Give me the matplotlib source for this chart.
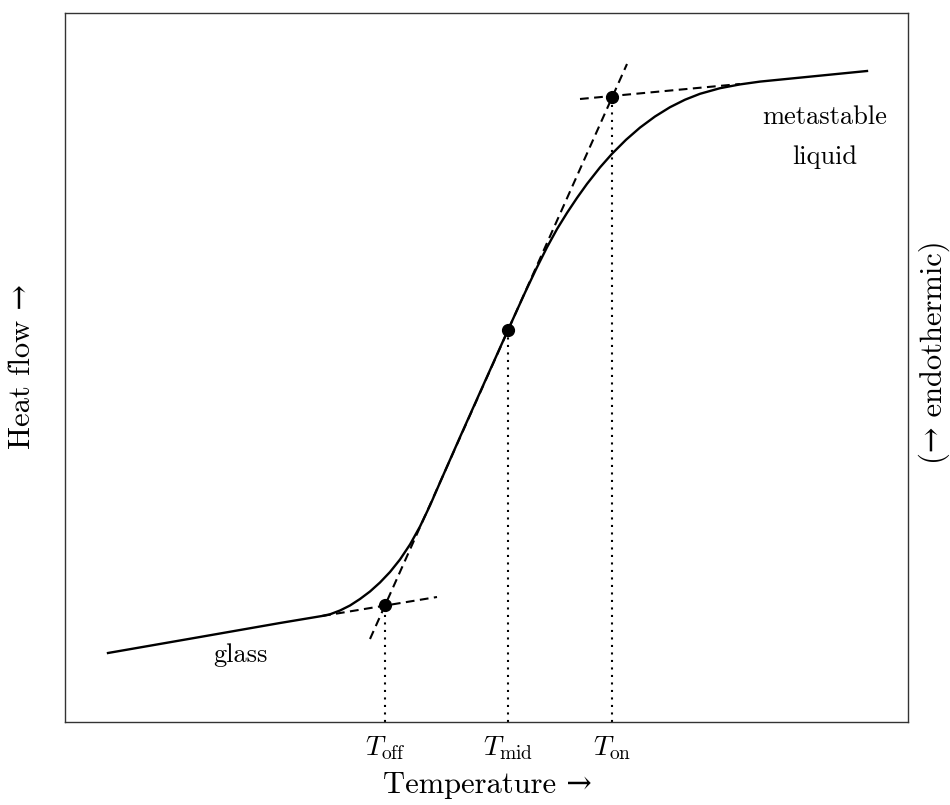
import matplotlib
matplotlib.use("Agg")
import matplotlib.pyplot as plt

plt.rcParams["font.family"] = ["cmr10", "DejaVu Serif"]
plt.rcParams["mathtext.fontset"] = "cm"
plt.rcParams["axes.unicode_minus"] = False
plt.rcParams["axes.formatter.use_mathtext"] = True

# DSC trace through the glass transition (arbitrary units)
temperature = [108, 200, 280, 322, 330, 340, 350, 360, 370, 380, 390, 400,
               410, 420, 430, 440, 460, 480, 508, 525, 536, 547, 557, 567,
               577, 587, 600, 612, 626, 640, 655, 670, 685, 700, 720, 740,
               760, 867]
heat_flow = [152, 168, 182, 189, 190.7, 194.5, 199.5, 206, 213.5, 222.5, 233, 245.5,
             260.5, 278.5, 299.5, 322.5, 367.9, 412.6, 475, 512.4, 535.7, 557.7, 575.9, 592.1,
             607.1, 621.1, 637.6, 651.2, 665.2, 677.4, 688.5, 697.8, 705.3, 711.2, 716.8, 720.6,
             723.4, 734]

# construction lines: glass baseline, liquid baseline, inflection tangent
glass_tangent_T = [322, 437]
glass_tangent_H = [189, 208]
liquid_tangent_T = [580, 740]
liquid_tangent_H = [706, 721]
inflection_tangent_T = [370, 627]
inflection_tangent_H = [166, 741]

# characteristic temperatures
char_T = [385, 508, 612]
char_H = [200, 475, 708]
char_labels = [r"$T_{\mathrm{off}}$", r"$T_{\mathrm{mid}}$", r"$T_{\mathrm{on}}$"]

fig = plt.figure(figsize=(9.5, 8.05), dpi=100)
ax = fig.add_axes([65 / 950, 83 / 805, 843 / 950, 709 / 805])
ax.set_xlim(65, 908)
ax.set_ylim(83, 792)

ax.plot(temperature, heat_flow, color="black", lw=1.7, solid_joinstyle="round", zorder=3)

dash = (0, (4.2, 2.6))
for tx, hy in [(glass_tangent_T, glass_tangent_H),
               (liquid_tangent_T, liquid_tangent_H),
               (inflection_tangent_T, inflection_tangent_H)]:
    ax.plot(tx, hy, color="black", lw=1.5, linestyle=dash, zorder=2)

ax.vlines(char_T, 83, char_H, colors="black", lw=1.5, linestyles=[(0, (1, 2.6))], zorder=1)
ax.plot(char_T, char_H, "o", color="black", ms=8.5, zorder=4)

ax.set_xticks(char_T)
ax.set_xticklabels(char_labels, fontsize=20)
ax.tick_params(axis="x", length=0, pad=9)
ax.set_yticks([])

for s in ax.spines.values():
    s.set_linewidth(1.0)
    s.set_color("#333333")

ax.text(240, 150, "glass", fontsize=19, ha="center", va="center")
ax.text(825, 688, "metastable", fontsize=19, ha="center", va="center")
ax.text(825, 648, "liquid", fontsize=19, ha="center", va="center")

fig.text(487 / 950, 1 - 785 / 805, "Temperature →", fontsize=22,
         ha="center", va="center")
fig.text(22 / 950, 1 - 367 / 805, "Heat flow →", fontsize=22,
         ha="center", va="center", rotation=90)
fig.text(934 / 950, 1 - 352 / 805, "(→ endothermic)", fontsize=22,
         ha="center", va="center", rotation=90)

fig.savefig("out.png", dpi=100)
